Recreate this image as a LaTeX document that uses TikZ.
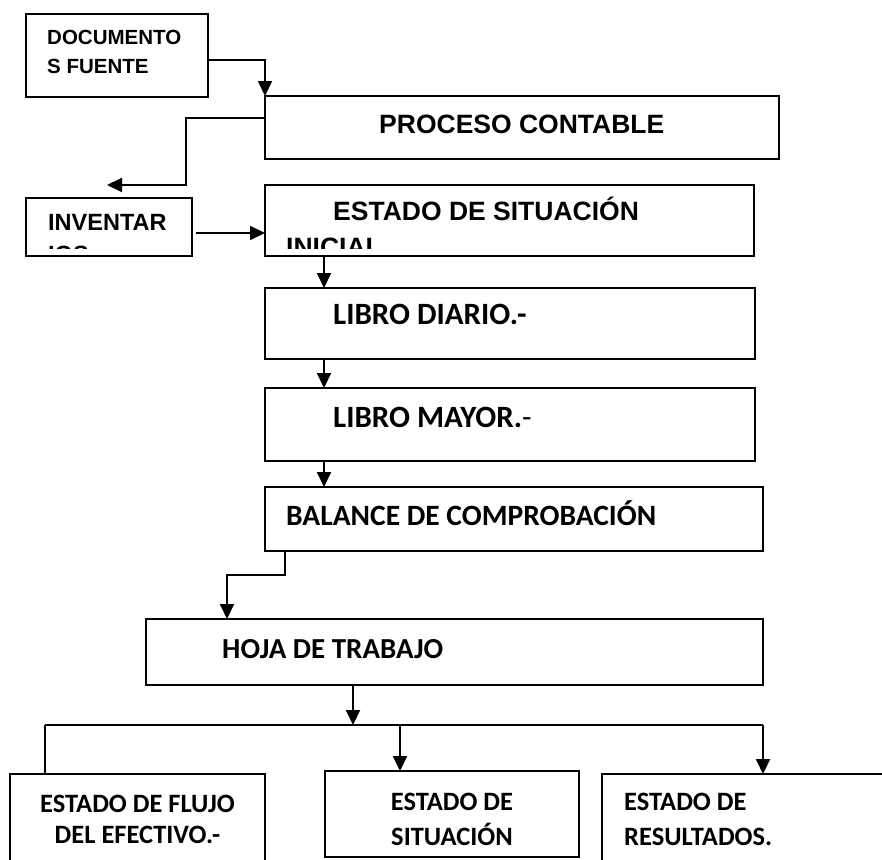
\documentclass[tikz,border=0pt]{standalone}
\usepackage{fontspec}
\newfontfamily\arfont{Liberation Sans}
\newfontfamily\cafont{Carlito}
\usetikzlibrary{arrows.meta}
\begin{document}
\begin{tikzpicture}[x=1pt,y=-1pt,
  box/.style={draw,line width=1.9pt,inner sep=0pt,outer sep=0pt,anchor=north west},
  arr/.style={line width=2pt,-{Triangle[length=15pt,width=14pt]}},
  ln/.style={line width=2pt},
  ta/.style={anchor=base west,inner sep=0pt,font=\arfont\bfseries\fontsize{#1}{#1}\selectfont},
  tc/.style={anchor=base west,inner sep=0pt,font=\cafont\bfseries\fontsize{#1}{#1}\selectfont},
  tcc/.style={anchor=base,inner sep=0pt,font=\cafont\bfseries\fontsize{#1}{#1}\selectfont}]
\useasboundingbox (0,0) rectangle (882,859);
\clip (0,0) rectangle (882,859);
% boxes
\node[box,minimum width=182pt,minimum height=83pt] (doc) at (26,14) {};
\node[box,minimum width=514pt,minimum height=63pt] (proc) at (265,96) {};
\node[box,minimum width=166pt,minimum height=58pt] (inv) at (26,198) {};
\node[box,minimum width=489pt,minimum height=71pt] (est) at (265,185) {};
\node[box,minimum width=490pt,minimum height=71pt] (diario) at (265,288) {};
\node[box,minimum width=490pt,minimum height=73pt] (mayor) at (265,388) {};
\node[box,minimum width=498pt,minimum height=64pt] (bal) at (265,487) {};
\node[box,minimum width=617pt,minimum height=66pt] (hoja) at (146,619) {};
\node[box,minimum width=255pt,minimum height=120pt] (flujo) at (10,774) {};
\node[box,minimum width=254pt,minimum height=86pt] (sit) at (325,771) {};
\node[box,minimum width=320pt,minimum height=120pt] (res) at (602,774) {};
% texts
\node[ta=20.5] (doct1) at (47,45) {DOCUMENTO};
\node[ta=20.5] (doct2) at (47,73) {S FUENTE};
\node[ta=26.5] (proct) at (379,133) {PROCESO CONTABLE};
\begin{scope}
\clip (inv.north west) rectangle ([yshift=8pt]inv.south east);
\node[ta=23.5] (invt1) at (48,230) {INVENTAR};
\node[ta=23.5] (invt2) at (48,262) {IOS};
\end{scope}
\begin{scope}
\clip (est.north west) rectangle ([yshift=8pt]est.south east);
\node[ta=26.5] (estt1) at (333,220) {ESTADO DE SITUACIÓN};
\node[ta=26.5] (estt2) at (286,256) {INICIAL};
\end{scope}
\node[tc=31] (diat) at (333,324) {LIBRO DIARIO.-};
\node[tc=31] (mayt) at (333,427) {LIBRO MAYOR.{\mdseries -}};
\node[tc=29.5] (balt) at (286,525) {BALANCE DE COMPROBACIÓN};
\node[tc=29] (hojat) at (222,658) {HOJA DE TRABAJO};
\node[tcc=26.5] (flt1) at (137.5,812) {ESTADO DE FLUJO};
\node[tcc=26.5] (flt2) at (137.5,843) {DEL EFECTIVO.-};
\node[tcc=26.5] (sit1) at (452,810) {ESTADO DE};
\node[tcc=26.5] (sit2) at (452,845) {SITUACIÓN};
\node[tc=26.5] (res1) at (624,810) {ESTADO DE};
\node[tc=26.5] (res2) at (624,845) {RESULTADOS.};
% connectors
\draw[arr] ([yshift=-4.5pt]doc.east) -| (proc.north west);
\coordinate (bend1) at (186,185);
\coordinate (invin) at (107,185);
\draw[arr] ([yshift=9.5pt]proc.west) -| (bend1) -- (invin);
\coordinate (ia) at ([xshift=4pt,yshift=-6pt]inv.east);
\draw[arr] (ia) -- (ia -| est.west);
\draw[arr] ([xshift=59pt]est.south west) -- ([xshift=59pt]diario.north west);
\draw[arr] ([xshift=59pt]diario.south west) -- ([xshift=59pt]mayor.north west);
\draw[arr] ([xshift=59pt]mayor.south west) -- ([xshift=59pt]bal.north west);
\coordinate (b2) at (227,575);
\draw[arr] ([xshift=20pt]bal.south west) |- (b2) -- (b2 |- hoja.north);
\coordinate (bus) at (353,725);
\coordinate (bl) at (45,725);
\coordinate (bm) at (400,725);
\coordinate (br) at (763,725);
\draw[arr] (hoja.south -| bus) -- (bus);
\draw[ln] (bl) -- (br);
\draw[ln] (bl) -- (bl |- flujo.north);
\draw[arr] (bm) -- (bm |- sit.north);
\draw[arr] (br) -- (br |- res.north);
\end{tikzpicture}
\end{document}
